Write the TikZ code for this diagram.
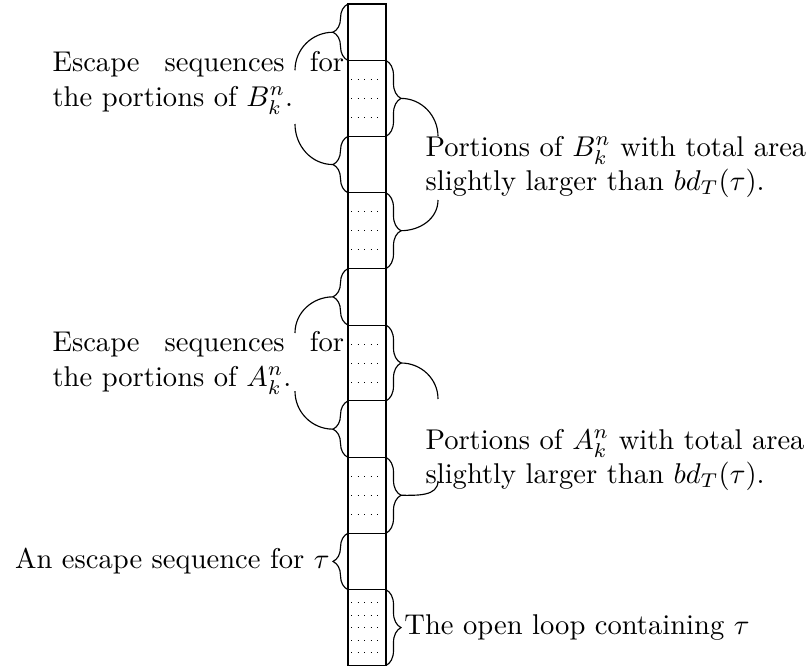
\documentclass[tikz,border=0pt]{standalone}
\usepackage{amsmath, amssymb}
\usepackage{tikz}
\usetikzlibrary{decorations.pathreplacing, positioning}

\tikzset{
  sbrace/.style={decorate, decoration={brace, amplitude=5.25pt}},
  fillrow/.style={dotted, line width=0.3pt},
  escnote/.style={inner sep=0pt, text width=102pt, align=justify},
  portnote/.style={inner sep=0pt, align=left},
}

\begin{document}
\begin{tikzpicture}[x=0.35pt, y=0.35pt]
\useasboundingbox (0,0) rectangle (808,671);

% Column of cells
\draw (348,5.5) rectangle (386,667);
\foreach \y in {610.5,534.7,478.2,402.4,345.9,270.1,213.6,137.8,81.3}
  \draw (348,\y) -- (386,\y);

% Dotted portions
\foreach \t in {610.5,478.2,345.9,213.6} {
  \foreach \i in {1,2,3}
    \draw[fillrow] (351,\t-18.95*\i) -- (383,\t-18.95*\i);
}
\foreach \i in {1,...,5}
  \draw[fillrow] (351,81.3-12.63*\i) -- (383,81.3-12.63*\i);

% Braces on the left
\foreach \b/\t in {610.5/667,478.2/534.7,345.9/402.4,213.6/270.1,81.3/137.8}
  \draw[sbrace] (348,\b) -- (348,\t);

% Braces on the right
\foreach \t/\b in {610.5/534.7,478.2/402.4,345.9/270.1,213.6/137.8,81.3/5.5}
  \draw[sbrace] (386,\t) -- (386,\b);

% Brace tips and ends of the arcs
\coordinate (eB1) at (333,638.75);
\coordinate (eB2) at (333,506.45);
\coordinate (eA1) at (333,374.15);
\coordinate (eA2) at (333,241.85);
\coordinate (eT) at (333,109.55);
\coordinate (pB1) at (401,572.6);
\coordinate (pB2) at (401,440.3);
\coordinate (pA1) at (401,308);
\coordinate (pA2) at (401,175.7);
\coordinate (pL) at (401,43.4);
\coordinate (eBtop) at (295,600.75);
\coordinate (eBbot) at (295,547);
\coordinate (eAtop) at (295,338);
\coordinate (eAbot) at (295,279.85);
\coordinate (pBtop) at (438,534.6);
\coordinate (pBbot) at (438,471);
\coordinate (pAtop) at (438,272);
\coordinate (pAbot) at (438,190);

% Labels
\node[escnote, anchor=west] (escB) at (52,588) {Escape sequences for the portions of $B_k^n$.};
\node[portnote, anchor=west] (porB) at (425,504) {Portions of $B_k^n$ with total area\\ slightly larger than $bd_T(\tau)$.};
\node[escnote, anchor=west] (escA) at (52,308) {Escape sequences for the portions of $A_k^n$.};
\node[portnote, anchor=west] (porA) at (425,211) {Portions of $A_k^n$ with total area\\ slightly larger than $bd_T(\tau)$.};
\node[anchor=east, inner sep=1pt] (escT) at (eT) {An escape sequence for $\tau$};
\node[anchor=west, inner sep=1pt] (loop) at (pL) {The open loop containing $\tau$};

% Arcs joining the braces
\draw (eB1) to[out=180,in=90] (eBtop);
\draw (eBbot) to[out=-90,in=180] (eB2);
\draw (eA1) to[out=180,in=90] (eAtop);
\draw (eAbot) to[out=-90,in=180] (eA2);
\draw (pB1) to[out=0,in=90] (pBtop);
\draw (pBbot) to[out=-90,in=0] (pB2);
\draw (pA1) to[out=0,in=90] (pAtop);
\draw (pAbot) to[out=-90,in=0] (pA2);
\end{tikzpicture}
\end{document}
